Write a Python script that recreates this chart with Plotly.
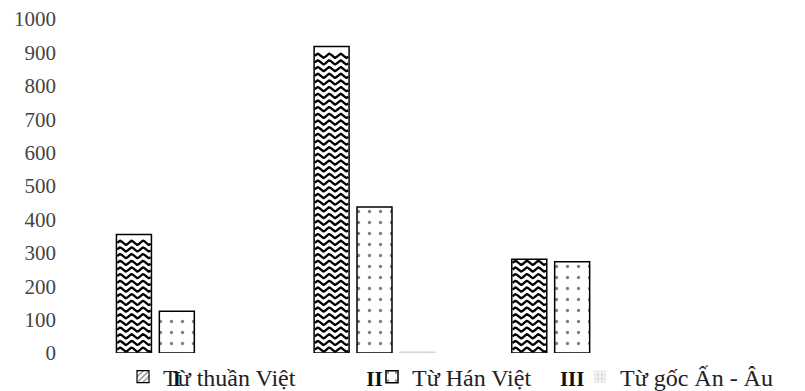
import numpy as np
import plotly.graph_objects as go

categories = ["I", "II", "III"]
series_names = ["Từ thuần Việt", "Từ Hán Việt", "Từ gốc Ấn - Âu"]
thuan_viet = [355, 918, 281]
han_viet = [125, 437, 273]
goc_an_au = [0, 3, 0]
y_ticks = list(range(0, 1001, 100))

FONT = "Liberation Serif"
idx = np.arange(len(categories))
bar_w = 0.177
centers = [-0.217, 0.0, 0.217]

fig = go.Figure()

# white bars with outline; the wavy fill is drawn on top of the first series
fig.add_trace(go.Bar(
    x=idx, y=thuan_viet, width=bar_w, offset=centers[0] - bar_w / 2,
    marker=dict(color="white", line=dict(color="black", width=1.5)),
    showlegend=False, hoverinfo="skip",
))

# wavy hatch lines inside each "thuần Việt" bar
wx, wy = [], []
period = 0.058
amp = 6.0
step = 20.0
for i, val in zip(idx, thuan_viet):
    x0 = i + centers[0] - bar_w / 2 + 0.004
    x1 = i + centers[0] + bar_w / 2 - 0.004
    xs = np.linspace(x0, x1, 80)
    for yb in np.arange(10, val - amp - 3, step):
        ys = yb + amp * np.sin(2 * np.pi * (xs - x0) / period)
        wx.extend(xs.tolist() + [None])
        wy.extend(ys.tolist() + [None])
fig.add_trace(go.Scatter(
    x=wx, y=wy, mode="lines", line=dict(color="black", width=2.3),
    showlegend=False, hoverinfo="skip",
))

# legend entry for the first series
fig.add_trace(go.Bar(
    x=[None], y=[None], name=series_names[0], legend="legend",
    marker=dict(color="white", line=dict(color="black", width=1.2),
                pattern=dict(shape="/", fgcolor="black", size=5, solidity=0.3)),
))

fig.add_trace(go.Bar(
    x=idx, y=han_viet, width=bar_w, offset=centers[1] - bar_w / 2,
    name=series_names[1], legend="legend2",
    marker=dict(color="white", line=dict(color="black", width=1.5),
                pattern=dict(shape=".", fgcolor="black", bgcolor="white",
                             size=11, solidity=0.07)),
))

fig.add_trace(go.Bar(
    x=idx, y=goc_an_au, width=bar_w, offset=centers[2] - bar_w / 2,
    name=series_names[2], legend="legend3",
    marker=dict(color="#f2f2f2",
                line=dict(color="#d0d0d0",
                          width=[1 if v > 0 else 0 for v in goc_an_au]),
                pattern=dict(shape=".", fgcolor="#b8b8b8", bgcolor="#f4f4f4",
                             size=5, solidity=0.3)),
))

leg_common = dict(orientation="h", yanchor="middle", xanchor="left",
                  bgcolor="rgba(0,0,0,0)",
                  font=dict(family=FONT, size=24, color="#222"))

fig.update_layout(
    width=805, height=391,
    margin=dict(l=78, r=134, t=19, b=38, autoexpand=False),
    paper_bgcolor="white", plot_bgcolor="white",
    barmode="overlay",
    font=dict(family=FONT, color="#333"),
    xaxis=dict(range=[-0.5, 2.5], tickvals=idx, ticktext=categories,
               showgrid=False, zeroline=False, showline=False, ticks="",
               ticklabelstandoff=11,
               tickfont=dict(family=FONT, size=21, color="#111", weight="bold")),
    yaxis=dict(range=[0, 1000], tickvals=y_ticks, showgrid=False,
               zeroline=False, showline=False, ticks="",
               ticklabelstandoff=21,
               tickfont=dict(family=FONT, size=21, color="#444")),
    legend=dict(x=0.0759, y=-0.072, **leg_common),
    legend2=dict(x=0.4958, y=-0.072, **leg_common),
    legend3=dict(x=0.8465, y=-0.072, **leg_common),
)

fig.write_html("out.html")
